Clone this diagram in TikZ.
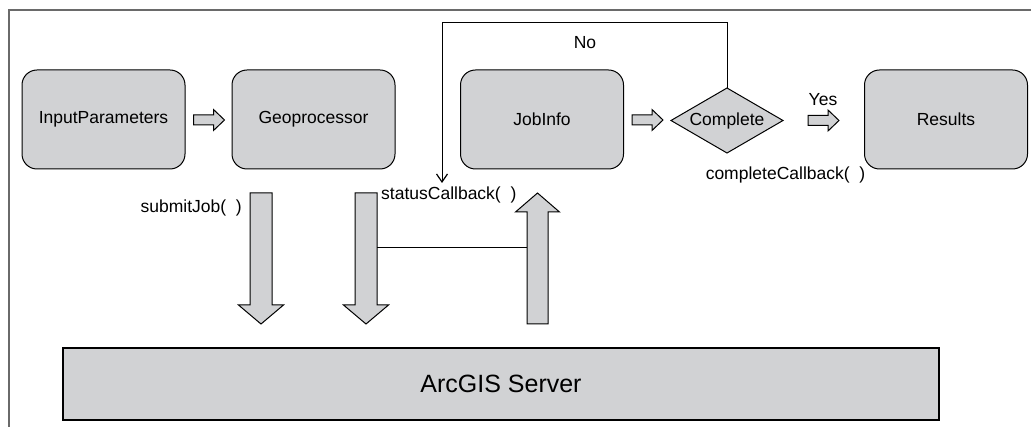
\documentclass[tikz,border=0pt]{standalone}
\usepackage{fontspec}
\setmainfont{Liberation Sans}
\usetikzlibrary{arrows.meta,calc}
\definecolor{boxgray}{HTML}{D1D2D4}
\definecolor{framegray}{HTML}{6A6A6A}
\newcommand\hblockarrow[1]{\draw[blockarrow] #1 ++(0,-5) -- ++(20,0) -- ++(0,-5.5) -- ++(11,10.5) -- ++(-11,10.5) -- ++(0,-5.5) -- ++(-20,0) -- cycle;}
\newcommand\downblockarrow[1]{\draw[blockarrow] #1 ++(-11,0) -- ++(22,0) -- ++(0,112) -- ++(11.5,0) -- ++(-22.5,19) -- ++(-22.5,-19) -- ++(11.5,0) -- cycle;}
\newcommand\upblockarrow[1]{\draw[blockarrow] #1 -- ++(22,19) -- ++(-11.5,0) -- ++(0,112) -- ++(-21,0) -- ++(0,-112) -- ++(-11.5,0) -- cycle;}
\begin{document}
\begin{tikzpicture}[x=1pt,y=-1pt,
  lbl/.style={font=\fontsize{17.5}{21}\selectfont, inner sep=0pt},
  rbox/.style={draw, fill=boxgray, rounded corners=15pt, minimum width=163pt, minimum height=99pt, line width=1pt, lbl},
  blockarrow/.style={draw, fill=boxgray, line width=1pt, line join=miter},
  conn/.style={line width=1pt}]
\useasboundingbox (0,0) rectangle (1031,427);
\draw[framegray, line width=2pt] (9,427) -- (9,10) -- (1031,10);

% boxes
\node[rbox] (ip) at (103.5,119.5) {InputParameters};
\node[rbox] (geo) at (313.5,119.5) {Geoprocessor};
\node[rbox] (job) at (542,119.5) {JobInfo};
\node[rbox] (res) at (946,119.5) {Results};

% decision diamond
\coordinate (cmp) at (727,120.5);
\coordinate (cmptop) at (727,88);
\draw[fill=boxgray, line width=1pt] (cmp) ++(-56,0) -- ++(56,-32.5) -- ++(56,32.5) -- ++(-56,32.5) -- cycle;
\node[lbl] (cmptext) at (cmp) {Complete};

% server
\node[draw, fill=boxgray, line width=1.5pt, minimum width=876pt, minimum height=72pt, inner sep=0pt,
      font=\fontsize{25}{30}\selectfont] (srv) at (501,384) {ArcGIS Server};

% small block arrows
\hblockarrow{($(ip.east)+(8,0.5)$)}
\hblockarrow{($(job.east)+(8,0.5)$)}
\hblockarrow{(808,120.5)}

% big block arrows
\coordinate (subA) at (261,193);
\coordinate (subB) at (366,193);
\coordinate (upC) at (537.5,193);
\downblockarrow{(subA)}
\downblockarrow{(subB)}
\upblockarrow{(upC)}
\coordinate (linkL) at (377,248);
\coordinate (linkR) at (527,248);
\draw[conn] (linkL) -- (linkR);

% feedback loop
\coordinate (fbend) at (442,183);
\draw[conn, -{Straight Barb[length=8pt,width=11pt,line width=1.2pt]}] (cmptop) -- ++(0,-65) -| (fbend);

% labels
\node[lbl] (no) at (585,43) {No};
\node[lbl] (yes) at (823,100) {Yes};
\node[lbl] (cc) at (785.5,175) {completeCallback(\ \ )};
\node[lbl, anchor=east] (sj) at (242,208) {submitJob(\ \ )};
\node[lbl, anchor=west] (sc) at (381,195) {statusCallback(\ \ )};
\end{tikzpicture}
\end{document}
